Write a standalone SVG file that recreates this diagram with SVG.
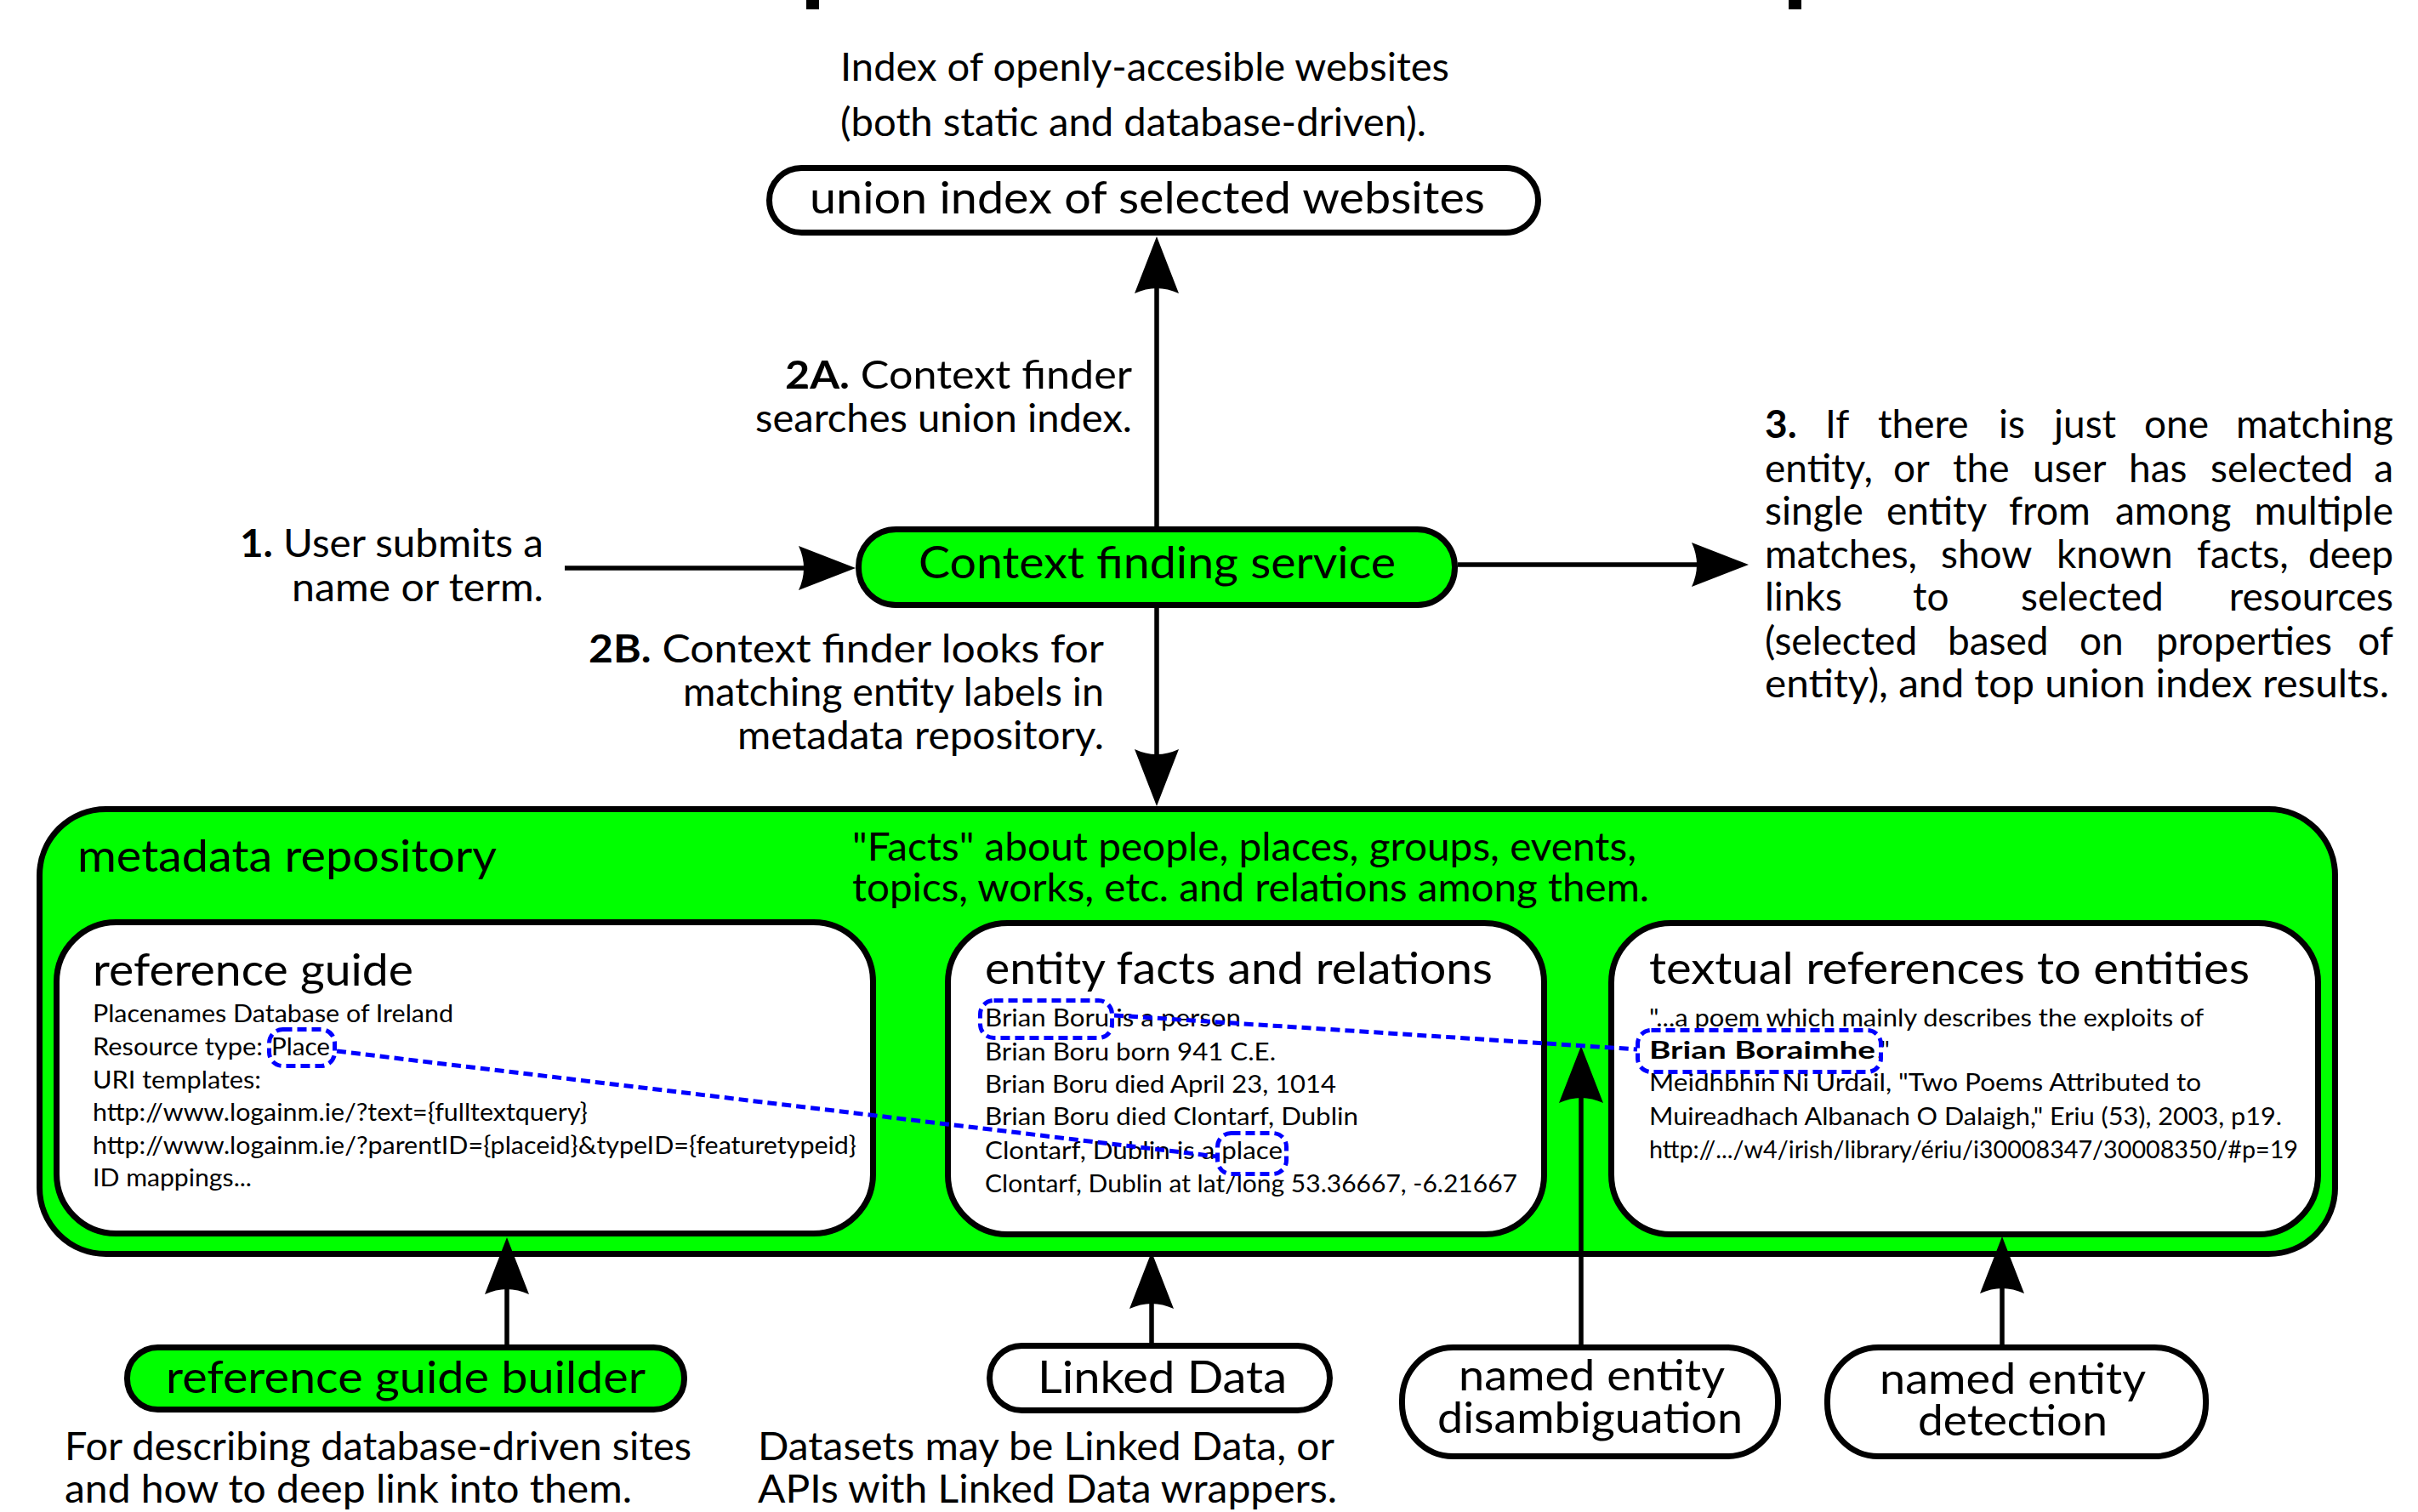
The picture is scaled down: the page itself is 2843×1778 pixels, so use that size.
<svg xmlns="http://www.w3.org/2000/svg" width="2843" height="1778" viewBox="0 0 2843 1778">
<style>
text{font-family:Lato,"Open Sans","Liberation Sans",sans-serif;fill:#000}
.big{font-size:52px}
.two{font-size:50px}
.lab{font-size:46px}
.sm{font-size:29px}
.b{font-weight:bold}
.e{text-anchor:end}
.box{stroke:#000;stroke-width:7}
.g{fill:#00ff00}
.w{fill:#fff}
.conn{stroke:#000;stroke-width:5.5;fill:none;marker-end:url(#arr)}
.hl{fill:none;stroke:#0000ff;stroke-width:5;stroke-dasharray:11 6}
</style>
<defs>
<marker id="arr" markerUnits="userSpaceOnUse" viewBox="-70 -30 72 60" markerWidth="72" markerHeight="60" refX="-8" refY="0" orient="auto">
<path d="M0,0 L-67,-26 Q-55,0 -67,26 Z" fill="#000"/>
</marker>
</defs>
<rect width="2843" height="1778" fill="#fff"/>
<g id="title-fragments">
<rect x="948" y="0" width="15" height="11" fill="#000"/>
<rect x="2103" y="0" width="15" height="11" fill="#000"/>
</g>
<g id="labels">
<text class="lab" x="988" y="95" textLength="716" lengthAdjust="spacingAndGlyphs">Index of openly-accesible websites</text>
<text class="lab" x="988" y="160" textLength="689" lengthAdjust="spacingAndGlyphs">(both static and database-driven).</text>
<text class="lab" x="923" y="457" textLength="408" lengthAdjust="spacingAndGlyphs"><tspan class="b">2A.</tspan> Context finder</text>
<text class="lab" x="888" y="508" textLength="443" lengthAdjust="spacingAndGlyphs">searches union index.</text>
<text class="lab" x="282" y="655" textLength="357" lengthAdjust="spacingAndGlyphs"><tspan class="b">1.</tspan> User submits a</text>
<text class="lab" x="343" y="707" textLength="296" lengthAdjust="spacingAndGlyphs">name or term.</text>
<text class="lab" x="692" y="779" textLength="606" lengthAdjust="spacingAndGlyphs"><tspan class="b">2B.</tspan> Context finder looks for</text>
<text class="lab" x="803" y="830" textLength="495" lengthAdjust="spacingAndGlyphs">matching entity labels in</text>
<text class="lab" x="867" y="881" textLength="431" lengthAdjust="spacingAndGlyphs">metadata repository.</text>
<g id="label3">
<text class="lab" y="515"><tspan x="2075" class="b">3.</tspan><tspan x="2146">If</tspan><tspan x="2208">there</tspan><tspan x="2350">is</tspan><tspan x="2415">just</tspan><tspan x="2521">one</tspan></text>
<text class="lab e" x="2814" y="515">matching</text>
<text class="lab" y="567"><tspan x="2075">entity,</tspan><tspan x="2226">or</tspan><tspan x="2296">the</tspan><tspan x="2390">user</tspan><tspan x="2503">has</tspan><tspan x="2599">selected</tspan></text>
<text class="lab e" x="2814" y="567">a</text>
<text class="lab" y="617"><tspan x="2075">single</tspan><tspan x="2218">entity</tspan><tspan x="2362">from</tspan><tspan x="2487">among</tspan></text>
<text class="lab e" x="2814" y="617">multiple</text>
<text class="lab" y="668"><tspan x="2075">matches,</tspan><tspan x="2282">show</tspan><tspan x="2418">known</tspan><tspan x="2583">facts,</tspan></text>
<text class="lab e" x="2814" y="668">deep</text>
<text class="lab" y="718"><tspan x="2075">links</tspan><tspan x="2249">to</tspan><tspan x="2376">selected</tspan></text>
<text class="lab e" x="2814" y="718">resources</text>
<text class="lab" y="770"><tspan x="2075">(selected</tspan><tspan x="2290">based</tspan><tspan x="2445">on</tspan><tspan x="2535">properties</tspan></text>
<text class="lab e" x="2814" y="770">of</text>
<text class="lab" x="2075" y="820" textLength="734" lengthAdjust="spacingAndGlyphs">entity), and top union index results.</text>
</g>
<text class="lab" x="76" y="1717" textLength="737" lengthAdjust="spacingAndGlyphs">For describing database-driven sites</text>
<text class="lab" x="76" y="1767" textLength="667" lengthAdjust="spacingAndGlyphs">and how to deep link into them.</text>
<text class="lab" x="891" y="1717" textLength="678" lengthAdjust="spacingAndGlyphs">Datasets may be Linked Data, or</text>
<text class="lab" x="891" y="1767" textLength="681" lengthAdjust="spacingAndGlyphs">APIs with Linked Data wrappers.</text>
</g>
<g id="union-index">
<rect class="box w" x="904.5" y="197.5" width="904" height="76" rx="38"/>
<text class="big" x="952" y="251" textLength="794" lengthAdjust="spacingAndGlyphs">union index of selected websites</text>
</g>
<g id="context-finding-service">
<rect class="box g" x="1009.5" y="622.5" width="701" height="89" rx="44"/>
<text class="big" x="1080" y="680" textLength="561" lengthAdjust="spacingAndGlyphs">Context finding service</text>
</g>
<g id="metadata-repository">
<rect class="box g" x="46.5" y="951.5" width="2699" height="523" rx="78"/>
<text class="big" x="91" y="1025" textLength="493" lengthAdjust="spacingAndGlyphs">metadata repository</text>
<text class="lab" x="1002" y="1012" textLength="922" lengthAdjust="spacingAndGlyphs">"Facts" about people, places, groups, events,</text>
<text class="lab" x="1002" y="1060" textLength="937" lengthAdjust="spacingAndGlyphs">topics, works, etc. and relations among them.</text>
</g>
<g id="reference-guide">
<rect class="box w" x="66.5" y="1084.5" width="960" height="366" rx="70"/>
<text class="big" x="109" y="1159" textLength="377" lengthAdjust="spacingAndGlyphs">reference guide</text>
<text class="sm" x="109" y="1202" textLength="424" lengthAdjust="spacingAndGlyphs">Placenames Database of Ireland</text>
<text class="sm" x="109" y="1241" textLength="200" lengthAdjust="spacingAndGlyphs">Resource type:</text>
<text class="sm" x="319" y="1241" textLength="69" lengthAdjust="spacingAndGlyphs">Place</text>
<text class="sm" x="109" y="1280" textLength="198" lengthAdjust="spacingAndGlyphs">URI templates:</text>
<text class="sm" x="109" y="1318" textLength="582" lengthAdjust="spacingAndGlyphs">http://www.logainm.ie/?text={fulltextquery}</text>
<text class="sm" x="109" y="1357" textLength="898" lengthAdjust="spacingAndGlyphs">http://www.logainm.ie/?parentID={placeid}&amp;typeID={featuretypeid}</text>
<text class="sm" x="109" y="1395" textLength="187" lengthAdjust="spacingAndGlyphs">ID mappings...</text>
<rect class="hl" x="316.5" y="1210.5" width="77" height="43" rx="16"/>
</g>
<g id="entity-facts">
<rect class="box w" x="1114.5" y="1085.5" width="701" height="366" rx="70"/>
<text class="big" x="1158" y="1157" textLength="597" lengthAdjust="spacingAndGlyphs">entity facts and relations</text>
<text class="sm" x="1158" y="1207" textLength="301" lengthAdjust="spacingAndGlyphs">Brian Boru is a person</text>
<text class="sm" x="1158" y="1247" textLength="342" lengthAdjust="spacingAndGlyphs">Brian Boru born 941 C.E.</text>
<text class="sm" x="1158" y="1285" textLength="413" lengthAdjust="spacingAndGlyphs">Brian Boru died April 23, 1014</text>
<text class="sm" x="1158" y="1323" textLength="439" lengthAdjust="spacingAndGlyphs">Brian Boru died Clontarf, Dublin</text>
<text class="sm" x="1158" y="1363" textLength="350" lengthAdjust="spacingAndGlyphs">Clontarf, Dublin is a place</text>
<text class="sm" x="1158" y="1402" textLength="626" lengthAdjust="spacingAndGlyphs">Clontarf, Dublin at lat/long 53.36667, -6.21667</text>
<rect class="hl" x="1152.5" y="1176.5" width="155" height="44" rx="16"/>
<rect class="hl" x="1431.5" y="1332.5" width="81" height="48" rx="16"/>
</g>
<g id="textual-references">
<rect class="box w" x="1894.5" y="1085.5" width="831" height="366" rx="70"/>
<text class="big" x="1939" y="1157" textLength="706" lengthAdjust="spacingAndGlyphs">textual references to entities</text>
<text class="sm" x="1939" y="1207" textLength="652" lengthAdjust="spacingAndGlyphs">"...a poem which mainly describes the exploits of</text>
<text class="sm b" x="1939" y="1245" textLength="266" lengthAdjust="spacingAndGlyphs">Brian Boraimhe</text>
<text class="sm" x="2207" y="1245">."</text>
<text class="sm" x="1939" y="1283" textLength="649" lengthAdjust="spacingAndGlyphs">Meidhbhin Ni Urdail, "Two Poems Attributed to</text>
<text class="sm" x="1939" y="1323" textLength="744" lengthAdjust="spacingAndGlyphs">Muireadhach Albanach O Dalaigh," Eriu (53), 2003, p19.</text>
<text class="sm" x="1939" y="1362" textLength="763" lengthAdjust="spacingAndGlyphs">http://.../w4/irish/library/ériu/i30008347/30008350/#p=19</text>
<rect class="hl" x="1925.5" y="1211.5" width="286" height="49" rx="16"/>
</g>
<g id="reference-guide-builder">
<rect class="box g" x="149.5" y="1584.5" width="655" height="73" rx="36"/>
<text class="big" x="195" y="1638" textLength="564" lengthAdjust="spacingAndGlyphs">reference guide builder</text>
</g>
<g id="linked-data">
<rect class="box w" x="1163.5" y="1582.5" width="400" height="76" rx="38"/>
<text class="big" x="1220" y="1638" textLength="293" lengthAdjust="spacingAndGlyphs">Linked Data</text>
</g>
<g id="ne-disambiguation">
<rect class="box w" x="1648.5" y="1584.5" width="442" height="128" rx="60" ry="62"/>
<text class="two" x="1715" y="1635" textLength="313" lengthAdjust="spacingAndGlyphs">named entity</text>
<text class="two" x="1690" y="1685" textLength="359" lengthAdjust="spacingAndGlyphs">disambiguation</text>
</g>
<g id="ne-detection">
<rect class="box w" x="2148.5" y="1584.5" width="445" height="128" rx="60" ry="62"/>
<text class="two" x="2210" y="1639" textLength="313" lengthAdjust="spacingAndGlyphs">named entity</text>
<text class="two" x="2255" y="1688" textLength="223" lengthAdjust="spacingAndGlyphs">detection</text>
</g>
<g id="connectors">
<line class="conn" x1="664" y1="668" x2="998" y2="668"/>
<line class="conn" x1="1360" y1="619" x2="1360" y2="286"/>
<line class="conn" x1="1360" y1="715" x2="1360" y2="940"/>
<line class="conn" x1="1714" y1="664" x2="2048" y2="664"/>
<line class="conn" x1="596" y1="1581" x2="596" y2="1463"/>
<line class="conn" x1="1354" y1="1579" x2="1354" y2="1480"/>
<line class="conn" x1="1859" y1="1581" x2="1859" y2="1238"/>
<line class="conn" x1="2354" y1="1581" x2="2354" y2="1462"/>
<line class="hl" x1="396" y1="1236" x2="1431" y2="1360"/>
<line class="hl" x1="1310" y1="1194" x2="1925" y2="1234"/>
</g>
</svg>
